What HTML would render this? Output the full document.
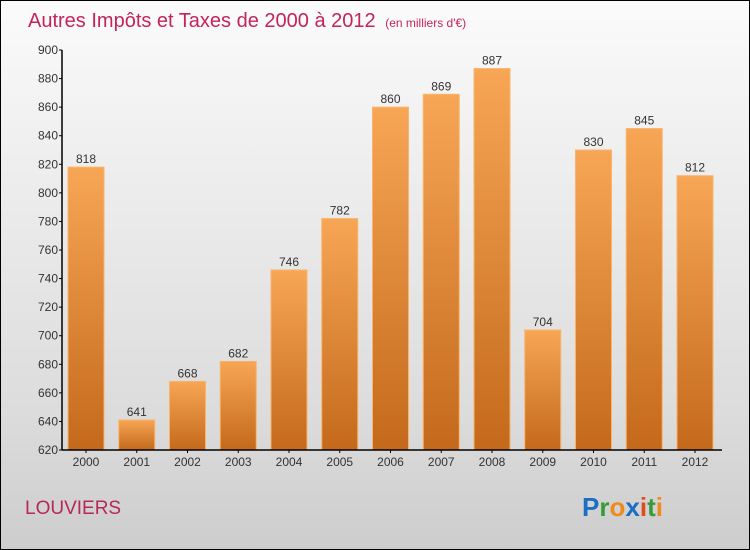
<!DOCTYPE html>
<html><head><meta charset="utf-8"><style>
body{margin:0}
#c{width:750px;height:550px;position:relative;box-sizing:border-box;border:1px solid #000;background:linear-gradient(#fbfbfb,#f2f2f2 20%,#dcdcdc 75%,#cdcdcd);font-family:"Liberation Sans",sans-serif;overflow:hidden}
</style></head><body>
<div id="c">
<svg width="750" height="550" style="position:absolute;left:-1px;top:-1px">
<defs><linearGradient id="g" x1="0" y1="0" x2="0" y2="1"><stop offset="0" stop-color="#f7a656"/><stop offset="1" stop-color="#c4691b"/></linearGradient></defs>
<text x="28" y="27" font-size="20" fill="#c4245c">Autres Impôts et Taxes de 2000 à 2012 <tspan font-size="12" dx="4">(en milliers d'€)</tspan></text>
<g id="plot"></g>
<text x="25" y="514" font-size="19" fill="#b8275a">LOUVIERS</text>
<text x="582" y="516" font-size="26" font-weight="bold"><tspan fill="#1a6fc4">P</tspan><tspan fill="#3a9a3a">r</tspan><tspan fill="#f08a1c">o</tspan><tspan fill="#1a6fc4">x</tspan><tspan fill="#e04a1c">i</tspan><tspan fill="#3a9a3a">t</tspan><tspan fill="#f08a1c">i</tspan></text>
</svg>
</div>
<script>
const years=["2000","2001","2002","2003","2004","2005","2006","2007","2008","2009","2010","2011","2012"];
const values=[818,641,668,682,746,782,860,869,887,704,830,845,812];
const yTicks=[620,640,660,680,700,720,740,760,780,800,820,840,860,880,900];
const NS="http://www.w3.org/2000/svg";
const g=document.getElementById('plot');
const y0=450,y1=50,vmin=620,vmax=900,x0=62,x1=722;
const ys=v=>y0-(v-vmin)/(vmax-vmin)*(y0-y1);
const step=50.75;
const xs=i=>86+step*i;
function el(t,a){const e=document.createElementNS(NS,t);for(const k in a)e.setAttribute(k,a[k]);g.appendChild(e);return e;}
yTicks.forEach(v=>{
 const t=el('text',{x:x0-4,y:ys(v)+4,'font-size':12,'text-anchor':'end',fill:'#333'});
 t.textContent=v;
 
 
 const l=el('line',{x1:x0-3,x2:x0,y1:ys(v),y2:ys(v),stroke:'#000'});
 
 
});
years.forEach((yr,i)=>{
 const cx=xs(i),w=36;
 const r=el('rect',{x:cx-w/2,y:ys(values[i]),width:w,height:y0-ys(values[i]),fill:'url(#g)',stroke:'#f9b46a','stroke-width':1});
 
 
 const v=el('text',{x:cx,y:ys(values[i])-4,'font-size':12,'text-anchor':'middle',fill:'#333'});
 v.textContent=values[i];
 
 
 const t=el('text',{x:cx,y:466,'font-size':12,'text-anchor':'middle',fill:'#333'});
 t.textContent=yr;
 
 
 const tk=el('line',{x1:cx,x2:cx,y1:y0,y2:y0+3,stroke:'#000'});
 
 
});
const ya=el('line',{x1:x0,x2:x0,y1:y1,y2:y0,stroke:'#000','stroke-width':1.5});


const xa=el('line',{x1:x0,x2:x1,y1:y0,y2:y0,stroke:'#000','stroke-width':1.5});


</script>
</body></html>
